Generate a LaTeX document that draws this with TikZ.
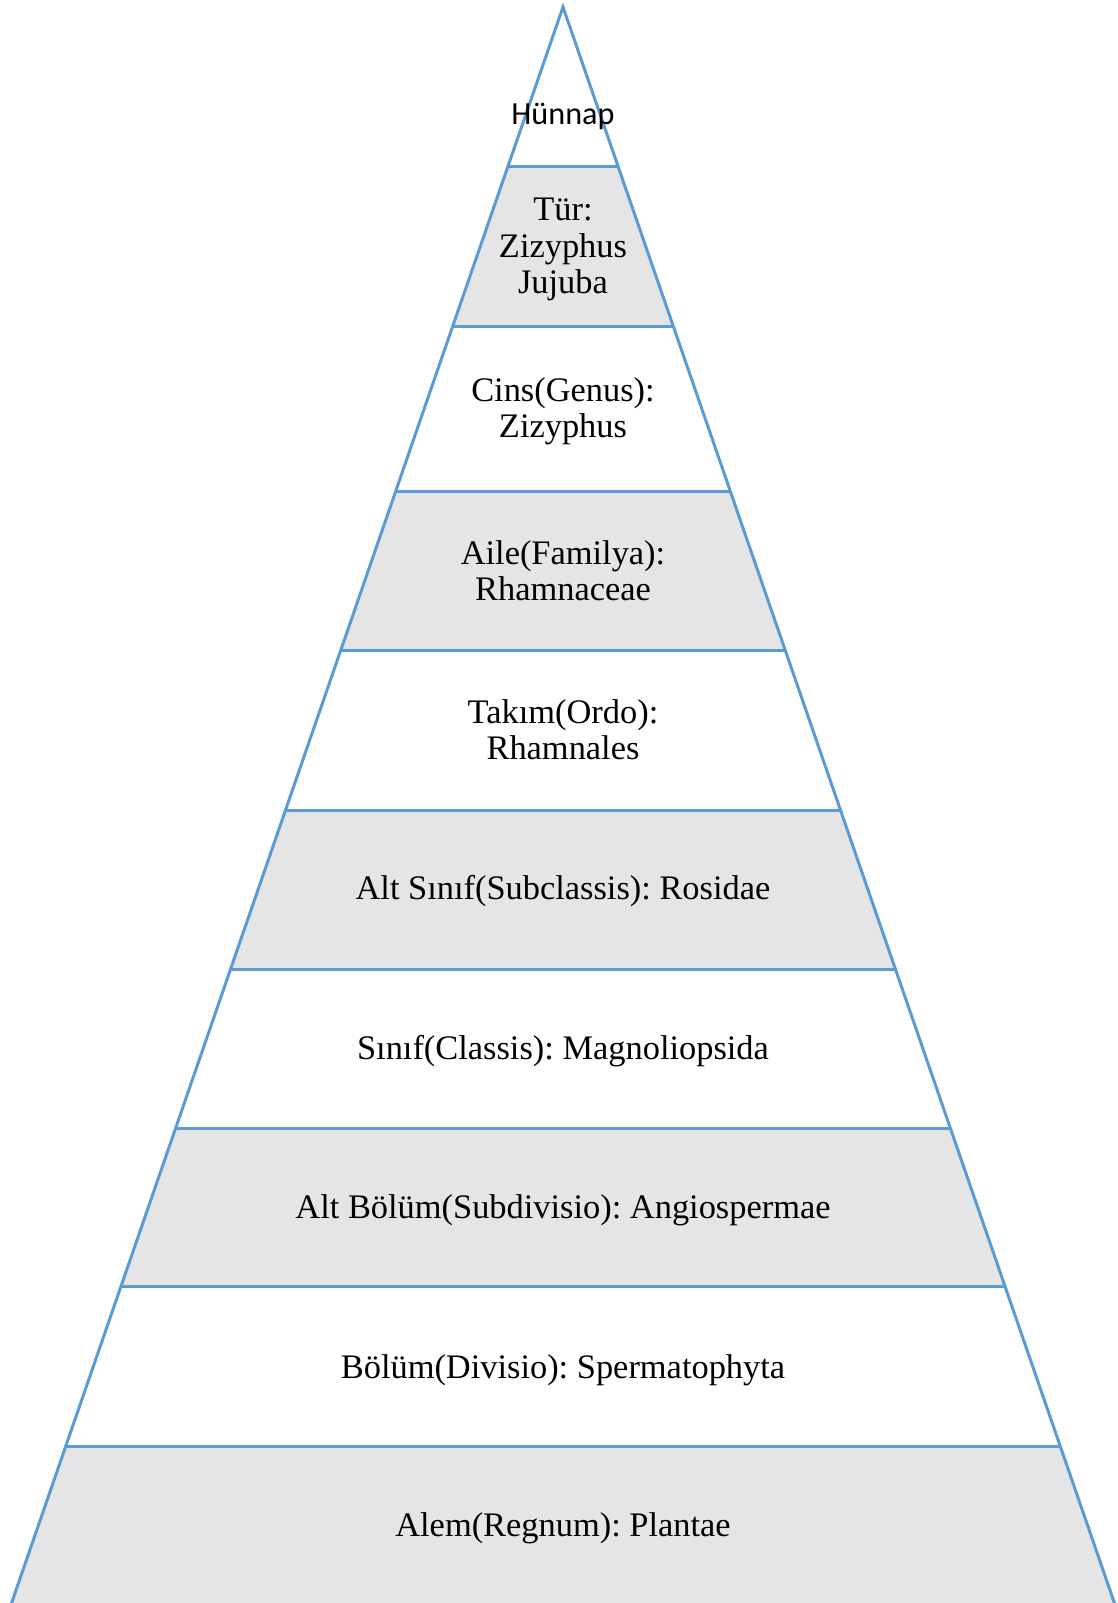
\documentclass[tikz,border=0pt]{standalone}
\usepackage{fontspec}
\setmainfont{Liberation Serif}
\newfontfamily\calibri{Carlito}
\definecolor{edgeblue}{HTML}{5B9BD5}
\definecolor{bandgray}{HTML}{E5E5E5}
\tikzset{
  bandfill/.style={fill=bandgray},
  edge/.style={draw=edgeblue, line width=3pt},
  label/.style={align=center, inner sep=0pt, font=\frenchspacing\fontsize{34.4}{36.3}\selectfont},
}
\begin{document}
\begin{tikzpicture}[x=1pt,y=-1pt]
\useasboundingbox (0,0) rectangle (1117,1603);
\clip (0,0) rectangle (1117,1603);
% grey bands
\foreach \a/\b in {166/326, 491.7/650.7, 810/969, 1128.3/1286.7, 1446/1620} {
  \pgfmathsetmacro\wa{0.3455*(\a-7)}
  \pgfmathsetmacro\wb{0.3455*(\b-7)}
  \fill[bandfill] (563-\wa,\a) -- (563+\wa,\a) -- (563+\wb,\b) -- (563-\wb,\b) -- cycle;
}
% horizontal dividers
\foreach \y in {166, 326, 491.7, 650.7, 810, 969, 1128.3, 1286.7, 1446} {
  \pgfmathsetmacro\w{0.3455*(\y-7)}
  \draw[edge] (563-\w,\y) -- (563+\w,\y);
}
% sides
\coordinate (apex) at (563,7);
\coordinate (bl) at (563-0.3455*1613,1620);
\coordinate (br) at (563+0.3455*1613,1620);
\draw[edge, line join=miter] (bl) -- (apex) -- (br);
% labels
\node[label, font=\calibri\fontsize{32.2}{36}\selectfont] (l0) at (563,116) {Hünnap};
\node[label] (l1) at (563,249.5) {Tür:\\Zizyphus\\Jujuba};
\node[label] (l2) at (563,411.5) {Cins(Genus):\\Zizyphus};
\node[label] (l3) at (563,570.5) {Aile(Familya):\\Rhamnaceae};
\node[label] (l4) at (563,729.5) {Takım(Ordo):\\Rhamnales};
\node[label] (l5) at (563,891.5) {Alt Sınıf(Subclassis): Rosidae};
\node[label] (l6) at (563,1051) {Sınıf(Classis): Magnoliopsida};
\node[label] (l7) at (563,1210.5) {Alt Bölüm(Subdivisio): Angiospermae};
\node[label] (l8) at (563,1370) {Bölüm(Divisio): Spermatophyta};
\node[label] (l9) at (563,1528.5) {Alem(Regnum): Plantae};
\end{tikzpicture}
\end{document}
